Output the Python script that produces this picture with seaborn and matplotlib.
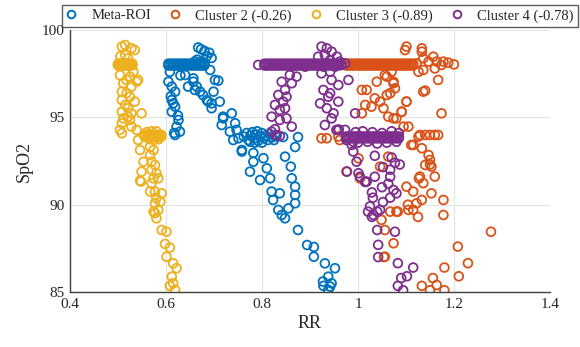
import numpy as np
import pandas as pd
import matplotlib
matplotlib.use("Agg")
import matplotlib.pyplot as plt
from matplotlib.ticker import FuncFormatter
import seaborn as sns

# series names and colours (MATLAB default order)
names = ["Meta-ROI", "Cluster 2 (-0.26)", "Cluster 3 (-0.89)", "Cluster 4 (-0.78)"]
colors = ["#0072BD", "#D95319", "#EDB120", "#7E2F8E"]

x_ticks = [0.4, 0.6, 0.8, 1.0, 1.2, 1.4]
y_ticks = [85, 90, 95, 100]

# SpO2 levels where many readings pile up into flat runs
high_levels = [97.97, 98.07]
c3_low_levels = [93.9, 94.0]
c4_low_levels = [93.8, 93.9]

# Meta-ROI: flat run at SpO2 98, then points
meta_band_rr = [0.605, 0.61, 0.615, 0.62, 0.625, 0.63, 0.635, 0.64, 0.645, 0.65,
                0.655, 0.66, 0.665, 0.67, 0.675, 0.68]
meta_rr = [0.665, 0.667, 0.673, 0.68, 0.685, 0.675, 0.69, 0.66, 0.695, 0.68,
           0.605, 0.612, 0.619, 0.612, 0.619, 0.612, 0.626, 0.622, 0.619, 0.629,
           0.608, 0.61, 0.615, 0.617, 0.625, 0.63,
           0.64, 0.657, 0.646, 0.664, 0.671, 0.685, 0.695, 0.692, 0.702, 0.712,
           0.719, 0.737, 0.744, 0.709, 0.699, 0.716, 0.657, 0.66, 0.677, 0.688,
           0.695, 0.719, 0.733, 0.747, 0.74, 0.758, 0.751,
           0.762, 0.768, 0.772, 0.776, 0.78, 0.784, 0.788, 0.792, 0.796, 0.8,
           0.804, 0.808, 0.812, 0.816, 0.82, 0.825, 0.83, 0.79, 0.785, 0.775, 0.8,
           0.844, 0.875, 0.869,
           0.758, 0.782, 0.803, 0.782, 0.775, 0.796, 0.81, 0.817, 0.82, 0.823,
           0.837, 0.834, 0.841, 0.848, 0.855, 0.869, 0.869, 0.869, 0.862, 0.86,
           0.848, 0.875, 0.894, 0.908, 0.908, 0.931, 0.952, 0.938, 0.928, 0.942,
           0.938, 0.945, 0.927]
meta_spo2 = [98.3, 99.0, 98.9, 98.8, 98.5, 98.2, 98.7, 98.2, 98.4, 98.1,
             97.04, 96.76, 96.47, 95.99, 95.61, 95.32, 94.85, 94.47, 93.99, 94.18,
             97.6, 96.2, 95.8, 94.1, 95.1, 97.4,
             97.42, 97.04, 96.76, 96.76, 96.47, 95.99, 95.8, 97.71, 97.14, 95.9,
             95.04, 95.23, 94.66, 97.1, 96.47, 94.56, 97.23, 96.57, 96.28, 95.9,
             95.52, 94.94, 94.18, 94.28, 93.7, 93.13, 93.8,
             93.9, 94.1, 93.7, 93.95, 94.15, 93.8, 94.0, 93.65, 93.9, 94.1,
             93.8, 93.95, 93.7, 94.05, 93.85, 93.7, 93.9, 94.2, 93.55, 93.6, 93.55,
             93.87, 93.87, 93.3,
             93.04, 92.96, 92.66, 92.46, 91.89, 91.41, 92.08, 91.51, 90.75, 90.27,
             90.65, 89.7, 89.41, 89.22, 89.79, 90.08, 90.56, 91.03, 91.51, 92.18,
             92.75, 88.55, 87.69, 87.58, 87.02, 86.64, 86.36, 85.88, 85.35, 85.31,
             85.12, 85.5, 85.6]

# Cluster 2
c2_band_rr = [0.975, 0.98, 0.985, 0.99, 0.995, 1.0, 1.005, 1.01, 1.015, 1.02,
              1.025, 1.03, 1.035, 1.04, 1.045, 1.05, 1.055, 1.06, 1.065, 1.07,
              1.075, 1.08, 1.085, 1.09, 1.095, 1.1, 1.105, 1.11, 1.115]
c2_rr = [1.122, 1.136, 1.133, 1.098, 1.101, 1.133, 1.157, 1.164, 1.178, 1.188,
         1.2, 1.174, 1.147, 1.126, 1.136, 1.167, 1.14, 1.101, 1.174, 1.091,
         1.105, 1.129, 1.14, 1.15, 1.16, 1.167, 1.115, 1.133, 1.147, 1.15,
         1.14, 1.153, 1.06, 1.074, 1.067, 1.077, 1.074,
         1.008, 1.018, 1.039, 1.056, 1.07, 1.074, 1.06, 1.035, 1.046, 1.015,
         1.028, 1.053, 1.008, 1.063, 1.08, 1.091, 1.101, 1.136, 1.095, 1.111, 1.126,
         0.924, 0.935, 0.959, 0.962, 0.976, 1.004, 1.015, 1.001,
         1.046, 1.063, 1.067, 1.049, 1.056, 1.074, 1.056, 1.08, 1.105, 1.115,
         1.122, 1.133, 1.178, 1.101, 1.115, 1.153, 1.136, 1.129, 1.16, 1.178,
         1.127, 1.15, 1.104, 1.083, 1.054, 1.277, 1.208, 1.229, 1.21, 1.18,
         1.156, 1.133, 1.15, 1.164, 1.18, 1.125, 1.16]
c2_spo2 = [98.09, 98.38, 98.76, 98.85, 99.05, 98.95, 98.47, 98.19, 98.19, 98.13,
           98.03, 98.0, 98.19, 97.61, 97.71, 97.14, 96.53, 95.9, 95.23, 95.32,
           94.47, 93.99, 93.99, 93.99, 93.99, 93.99, 93.42, 93.23, 92.84, 92.56,
           92.27, 92.18, 97.33, 97.04, 96.38, 96.66, 94.94,
           96.57, 96.57, 97.04, 97.42, 97.61, 96.95, 96.28, 96.09, 95.9, 95.71,
           95.61, 95.52, 95.23, 95.04, 94.94, 95.32, 95.9, 96.47, 94.47, 93.42, 93.9,
           93.8, 93.8, 93.9, 93.7, 91.89, 91.51, 91.32, 92.65,
           92.18, 92.75, 89.6, 89.13, 88.55, 87.79, 87.02, 89.6, 89.7, 89.7,
           90.08, 90.27, 90.27, 91.03, 90.75, 90.65, 91.23, 91.61, 91.61, 89.41,
           91.5, 92.3, 90.0, 89.6, 87.0, 88.45, 87.6, 86.65, 85.9, 86.4,
           85.8, 85.35, 85.1, 85.4, 85.1, 89.3, 97.8]

# Cluster 3
c3_band_rr = [0.5, 0.503, 0.506, 0.51, 0.513, 0.516, 0.52, 0.523, 0.526, 0.53]
c3_low_band_rr = [0.555, 0.56, 0.565, 0.57, 0.575, 0.58, 0.585, 0.59]
c3_rr = [0.508, 0.515, 0.528, 0.535, 0.515, 0.521, 0.505,
         0.504, 0.525, 0.532, 0.542, 0.511, 0.528, 0.508, 0.518, 0.525, 0.508,
         0.535, 0.515, 0.521, 0.508, 0.528, 0.549, 0.511, 0.525, 0.508, 0.528,
         0.504, 0.508, 0.539, 0.518, 0.521,
         0.57, 0.58, 0.585, 0.575, 0.565, 0.56,
         0.539, 0.542, 0.546, 0.553, 0.549, 0.546, 0.548,
         0.567, 0.574, 0.567, 0.57, 0.577, 0.57, 0.58, 0.574, 0.584, 0.57,
         0.591, 0.577, 0.58, 0.588, 0.577, 0.574, 0.577, 0.584, 0.58, 0.567,
         0.591, 0.601, 0.598, 0.608, 0.601, 0.615, 0.622, 0.612, 0.608, 0.619,
         0.615]
c3_spo2 = [99.05, 99.14, 98.95, 98.85, 98.57, 98.38, 98.5,
           97.42, 97.33, 97.61, 97.14, 96.95, 96.76, 96.47, 96.38, 96.18, 95.99,
           95.9, 95.71, 95.52, 95.32, 95.23, 95.23, 94.94, 94.85, 94.66, 94.47,
           94.28, 94.09, 97.04, 97.14, 95.04,
           94.2, 94.2, 93.75, 93.7, 93.75, 94.15,
           94.28, 93.7, 93.13, 92.46, 91.89, 91.37, 91.32,
           93.32, 93.13, 92.84, 92.46, 92.27, 91.99, 91.8, 91.51, 91.51, 91.23,
           90.65, 90.75, 90.37, 90.17, 90.08, 89.6, 89.51, 89.7, 89.22, 90.75,
           88.55, 88.45, 87.75, 87.54, 87.02, 86.64, 86.36, 85.88, 85.35, 85.12,
           85.5]

# Cluster 4
c4_band_rr = [0.805, 0.81, 0.815, 0.82, 0.825, 0.83, 0.835, 0.84, 0.845,
              0.85, 0.855, 0.86, 0.865, 0.87, 0.875, 0.88, 0.885, 0.89, 0.895,
              0.9, 0.905, 0.91, 0.915, 0.92, 0.925, 0.93, 0.935, 0.94, 0.945,
              0.95, 0.955, 0.96]
c4_low_band_rr = [0.975, 0.98, 0.985, 0.99, 0.995, 1.0, 1.005, 1.01, 1.015, 1.02,
                  1.025, 1.03, 1.035, 1.04, 1.045, 1.05, 1.055, 1.06, 1.065, 1.07,
                  1.075, 1.08, 1.085]
c4_rr = [0.792, 0.924, 0.935, 0.917, 0.931, 0.945, 0.956, 0.942, 0.962, 0.952, 0.928,
         0.966, 0.973,
         0.862, 0.89, 0.858, 0.872, 0.841, 0.862, 0.848, 0.834, 0.851, 0.844,
         0.827, 0.837, 0.848, 0.82, 0.851, 0.837, 0.862, 0.827, 0.83, 0.837, 0.82,
         0.924, 0.942, 0.945, 0.959, 0.98, 0.928, 0.942, 0.938, 0.959, 0.921,
         0.935, 0.949, 0.945, 0.931, 0.994, 0.973, 0.959,
         0.995, 1.01, 1.03, 1.05, 1.07, 1.085, 1.0, 1.02, 1.04, 1.06, 1.08,
         0.96, 0.955, 0.976, 0.987, 0.99, 0.997,
         0.99, 0.977, 1.004, 1.015, 1.035, 1.035, 1.052, 1.07, 1.077, 1.087,
         1.067, 1.067, 1.063, 1.05, 1.08, 1.067, 1.029, 1.031, 1.052, 1.025,
         1.021, 1.04, 1.029, 1.04, 1.077, 1.042, 1.042, 1.083, 1.115, 1.102,
         1.09, 1.083, 1.094, 1.018, 1.001, 1.074, 1.032, 1.046]
c4_spo2 = [98.0, 99.05, 98.95, 98.47, 98.57, 98.76, 98.47, 98.28, 98.19, 97.9, 97.9,
           98.0, 98.09,
           97.9, 97.9, 97.42, 97.33, 97.04, 96.95, 96.57, 96.28, 96.18, 95.9,
           95.71, 95.42, 95.52, 95.04, 94.94, 94.85, 94.47, 94.32, 93.99, 93.93, 94.18,
           97.52, 97.61, 97.14, 96.85, 97.14, 96.57, 96.38, 96.18, 95.9, 95.8,
           95.52, 95.23, 94.94, 94.56, 95.23, 94.28, 94.28,
           94.15, 94.2, 94.15, 94.1, 94.2, 94.1, 93.55, 93.6, 93.5, 93.55, 93.6,
           94.3, 94.28, 93.7, 93.42, 93.04, 92.46,
           93.6, 91.9, 91.6, 91.3, 92.8, 91.6, 92.15, 92.7, 92.4, 92.3,
           92.0, 91.6, 91.2, 91.0, 90.65, 90.4, 90.7, 90.4, 90.15, 89.9,
           89.6, 89.6, 89.3, 88.55, 88.45, 87.7, 87.0, 86.65, 86.4, 85.9,
           85.8, 85.35, 85.1, 91.32, 91.8, 90.84, 89.41, 89.7]


def series(bands, rr, spo2):
    xs, ys = [], []
    for band_rr, levels in bands:
        for lv in levels:
            xs += band_rr
            ys += [lv] * len(band_rr)
    return pd.DataFrame({"RR": xs + rr, "SpO2": ys + spo2})


frames = [
    series([(meta_band_rr, high_levels)], meta_rr, meta_spo2),
    series([(c2_band_rr, high_levels)], c2_rr, c2_spo2),
    series([(c3_band_rr, high_levels), (c3_low_band_rr, c3_low_levels)], c3_rr, c3_spo2),
    series([(c4_band_rr, high_levels), (c4_low_band_rr, c4_low_levels)], c4_rr, c4_spo2),
]

sns.set_theme(style="white")
plt.rcParams["font.family"] = ["Liberation Serif", "DejaVu Serif"]

fig = plt.figure(figsize=(5.8, 3.47), dpi=100)
ax = fig.add_axes([70 / 580, 55 / 347, 480 / 580, 262 / 347])

for df, name, col in zip(frames, names, colors):
    sns.scatterplot(data=df, x="RR", y="SpO2", ax=ax, color=col, facecolor="none",
                    edgecolor=col, linewidth=1.3, s=40, marker="o", label=name)

ax.set_xlim(0.4, 1.4)
ax.set_ylim(85, 100)
ax.set_xticks(x_ticks)
ax.set_yticks(y_ticks)
ax.xaxis.set_major_formatter(FuncFormatter(lambda v, p: f"{v:g}"))
ax.grid(True, color="#e3e3e3", linewidth=0.8)
ax.set_axisbelow(True)
for side in ["top", "right"]:
    ax.spines[side].set_visible(False)
for side in ["left", "bottom"]:
    ax.spines[side].set_color("#404040")
    ax.spines[side].set_linewidth(1.0)
ax.tick_params(direction="in", length=3.5, width=0.8, color="#404040",
               labelsize=11, labelcolor="#262626", pad=4)
ax.set_xlabel("RR", fontsize=13, color="#262626", labelpad=3)
ax.set_ylabel("SpO2", fontsize=13, color="#262626", labelpad=6)

ax.legend_.remove()
handles = [plt.Line2D([], [], linestyle="none", marker="o", markersize=5.5,
                      markerfacecolor="none", markeredgecolor=c, markeredgewidth=1.4)
           for c in colors]
leg = fig.legend(handles, names, loc="lower left", ncol=4, mode="expand",
                 bbox_to_anchor=(62 / 580, 320 / 347, 516 / 580, 24 / 347),
                 frameon=True, fancybox=False, edgecolor="#333333", fontsize=10.5,
                 handlelength=0.6, handletextpad=1.1, columnspacing=1.0,
                 borderaxespad=0.0, borderpad=0.3)
leg.get_frame().set_linewidth(1.0)

fig.savefig("out.png", dpi=100)
